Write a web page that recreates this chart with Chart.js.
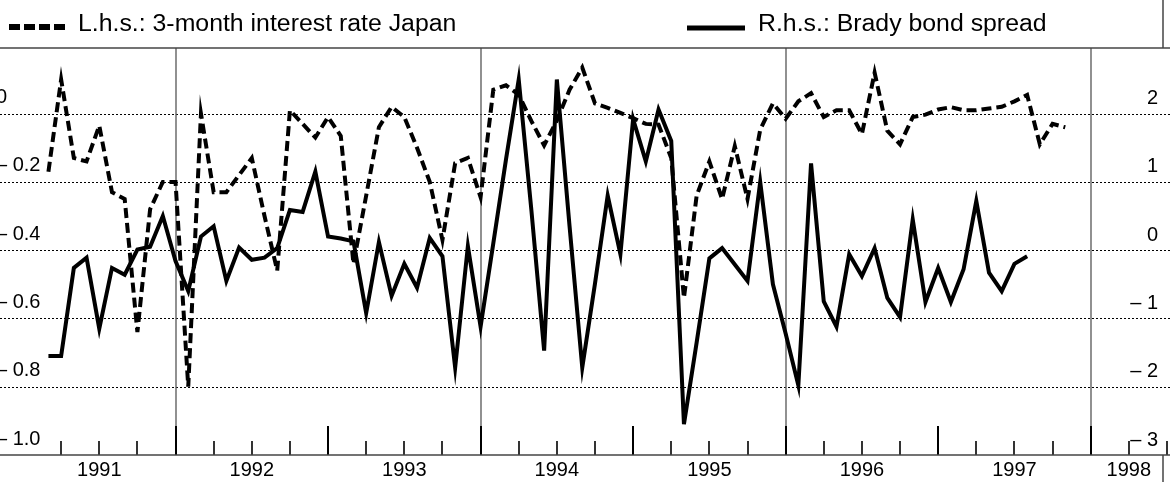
<!DOCTYPE html>
<html>
<head>
<meta charset="utf-8">
<script src="https://cdn.jsdelivr.net/npm/chart.js@4/dist/chart.umd.min.js"></script>
<style>
  body { margin: 0; background: #fff; }
  #wrap { width: 1170px; height: 482px; position: relative; }
</style>
</head>
<body>
<div id="wrap"><canvas id="chart"></canvas></div>
<script>
// months are counted from January 1991 (0 = Jan 1991), first observation is March 1991
const startMonth = 2;

// l.h.s.: 3-month interest rate Japan (monthly)
const japanRate = [
  -0.17, 0.10, -0.13, -0.14, -0.035, -0.23, -0.25, -0.64, -0.28, -0.20,
  -0.20, -0.80, 0.00, -0.23, -0.23, -0.18, -0.13, -0.30, -0.46, 0.01,
  -0.03, -0.07, -0.01, -0.065, -0.44, -0.24, -0.04, 0.02, -0.01, -0.10,
  -0.20, -0.37, -0.145, -0.13, -0.245, 0.07, 0.083, 0.056, -0.022, -0.093,
  -0.02, 0.07, 0.135, 0.03, 0.017, 0.002, -0.013, -0.03, -0.032, -0.13,
  -0.54, -0.24, -0.14, -0.25, -0.095, -0.25, -0.047, 0.03, -0.015, 0.036,
  0.06, -0.01, 0.01, 0.01, -0.06, 0.12, -0.05, -0.09, -0.01, -0.003,
  0.012, 0.019, 0.01, 0.01, 0.015, 0.02, 0.036, 0.055, -0.09, -0.03,
  -0.04
];

// r.h.s.: Brady bond spread (monthly)
const bradySpread = [
  -1.55, -1.55, -0.26, -0.11, -1.15, -0.26, -0.36, 0.01, 0.05, 0.50,
  -0.16, -0.60, 0.20, 0.35, -0.45, 0.04, -0.14, -0.11, 0.03, 0.59,
  0.56, 1.15, 0.20, 0.17, 0.13, -0.92, 0.12, -0.67, -0.20, -0.55,
  0.18, -0.09, -1.72, 0.06, -1.12, 0.10, 1.33, 2.50, 0.58, -1.47,
  2.50, 0.35, -1.72, -0.49, 0.80, -0.06, 1.92, 1.30, 2.06, 1.60,
  -2.55, -1.35, -0.12, 0.03, -0.21, -0.45, 1.00, -0.50, -1.22, -1.98,
  1.27, -0.75, -1.12, -0.06, -0.38, 0.03, -0.70, -0.98, 0.45, -0.76,
  -0.26, -0.76, -0.28, 0.72, -0.33, -0.60, -0.20, -0.09
];

const leftTicks = [0, -0.2, -0.4, -0.6, -0.8, -1.0];
const leftTickLabels = ['0', '\u2013 0.2', '\u2013 0.4', '\u2013 0.6', '\u2013 0.8', '\u2013 1.0'];
const rightTicks = [2, 1, 0, -1, -2, -3];
const rightTickLabels = ['2', '1', '0', '\u2013 1', '\u2013 2', '\u2013 3'];
const yearLabels = ['1991', '1992', '1993', '1994', '1995', '1996', '1997', '1998'];
const yearLabelMonths = [6, 18, 30, 42, 54, 66, 78, 87];

const FONT = '"Liberation Sans", Arial, sans-serif';

function seg(ctx, x1, y1, x2, y2) {
  ctx.beginPath(); ctx.moveTo(x1, y1); ctx.lineTo(x2, y2); ctx.stroke();
}

const framePlugin = {
  id: 'frame',
  beforeDatasetsDraw(chart) {
    const { ctx, chartArea: a, scales } = chart;
    const x = scales.x, yL = scales.yL, yR = scales.yR;
    ctx.save();

    // dotted grid
    ctx.strokeStyle = '#000';
    ctx.lineWidth = 1;
    ctx.setLineDash([2, 2]);
    leftTicks.forEach(v => {
      if (v === -1) return;
      const y = Math.round(yL.getPixelForValue(v)) + 0.5;
      seg(ctx, 0, y, chart.width, y);
    });
    ctx.setLineDash([]);

    // quarter ticks and two-year separators
    for (let m = 3; m <= 90; m += 3) {
      const px = Math.round(x.getPixelForValue(m));
      if (m % 24 === 12) {
        ctx.strokeStyle = '#555'; ctx.lineWidth = 1.3;
        seg(ctx, px, a.top, px, a.bottom);
        ctx.strokeStyle = '#000'; ctx.lineWidth = 2;
        seg(ctx, px, a.bottom - 29, px, a.bottom);
      } else if (m % 12 === 0) {
        ctx.strokeStyle = '#000'; ctx.lineWidth = 2;
        seg(ctx, px, a.bottom - 29, px, a.bottom);
      } else {
        ctx.strokeStyle = '#000'; ctx.lineWidth = 1.6;
        seg(ctx, px, a.bottom - 14, px, a.bottom);
      }
    }

    // axis value labels
    ctx.fillStyle = '#000';
    ctx.font = '20px ' + FONT;
    ctx.textBaseline = 'middle';
    ctx.textAlign = 'left';
    leftTicks.forEach((v, i) => {
      ctx.fillText(leftTickLabels[i], -4, yL.getPixelForValue(v) - 16);
    });
    ctx.textAlign = 'right';
    rightTicks.forEach((v, i) => {
      ctx.fillText(rightTickLabels[i], 1158, yR.getPixelForValue(v) - 15);
    });
    ctx.restore();
  },
  afterDraw(chart) {
    const { ctx, chartArea: a, scales } = chart;
    const x = scales.x;
    ctx.save();

    // frame lines
    ctx.strokeStyle = '#444';
    ctx.lineWidth = 1.5;
    seg(ctx, 0, a.top, chart.width, a.top);
    seg(ctx, 0, a.bottom, chart.width, a.bottom);
    seg(ctx, 1163, 0, 1163, a.top);
    seg(ctx, 1163, a.bottom, 1163, chart.height);

    // year labels
    ctx.fillStyle = '#000';
    ctx.font = '20px ' + FONT;
    ctx.textAlign = 'center';
    ctx.textBaseline = 'middle';
    yearLabels.forEach((t, i) => {
      ctx.fillText(t, x.getPixelForValue(yearLabelMonths[i]), 470);
    });

    // legend
    ctx.strokeStyle = '#000';
    ctx.lineWidth = 6;
    ctx.setLineDash([11, 4]);
    seg(ctx, 9, 27, 66, 27);
    ctx.setLineDash([]);
    ctx.lineWidth = 5;
    seg(ctx, 687, 28, 745, 28);

    ctx.font = '23px ' + FONT;
    ctx.textAlign = 'left';
    ctx.textBaseline = 'alphabetic';
    [['L.h.s.: 3-month interest rate Japan', 78], ['R.h.s.: Brady bond spread', 758]].forEach(([t, lx]) => {
      ctx.save();
      ctx.translate(lx, 31);
      ctx.scale(1.08, 1);
      ctx.fillText(t, 0, 0);
      ctx.restore();
    });
    ctx.restore();
  }
};

new Chart(document.getElementById('chart'), {
  type: 'line',
  data: {
    datasets: [{
      label: 'L.h.s.: 3-month interest rate Japan',
      data: japanRate.map((v, i) => ({ x: startMonth + i, y: v })),
      yAxisID: 'yL',
      borderColor: '#000',
      borderWidth: 4,
      borderDash: [10, 5],
      borderJoinStyle: 'miter',
      pointRadius: 0,
      tension: 0,
      fill: false
    }, {
      label: 'R.h.s.: Brady bond spread',
      data: bradySpread.map((v, i) => ({ x: startMonth + i, y: v })),
      yAxisID: 'yR',
      borderColor: '#000',
      borderWidth: 4,
      borderJoinStyle: 'miter',
      pointRadius: 0,
      tension: 0,
      fill: false
    }]
  },
  options: {
    responsive: true,
    maintainAspectRatio: false,
    animation: false,
    layout: { padding: { top: 48, bottom: 27, left: 0, right: 0 } },
    plugins: { legend: { display: false }, tooltip: { enabled: false } },
    scales: {
      x: { type: 'linear', min: -1.81, max: 90.24, display: false },
      yL: { type: 'linear', position: 'left', min: -1.0, max: 0.1923, display: false },
      yR: { type: 'linear', position: 'right', min: -3, max: 2.9615, display: false }
    }
  },
  plugins: [framePlugin]
});
</script>
</body>
</html>
